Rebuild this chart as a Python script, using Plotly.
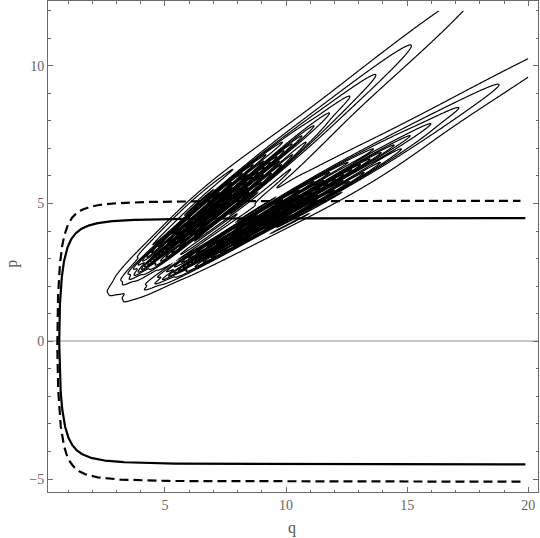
import numpy as np
import plotly.graph_objects as go

# ---- data / model parameters ----
x_ticks = [5, 10, 15, 20]
y_ticks = [-5, 0, 5, 10]
q_range = [0.17, 20.4]
p_range = [-5.47, 12.35]

# energy curves  H = p^2/2 + a/q^2
pot_strength = 4.0
energy_levels = [10.0, 13.0]          # solid, dashed
energy_dash = ["solid", "9px,5px"]

# two sheared lobes (centre line q = q0 + p*t)
lobe_q0 = [0.50, 0.55]
lobe_t = [1.36, 1.95]
lobe_sigma0 = [0.30, 0.31]
lobe_sigma1 = [0.016, 0.02]
lobe_sigma_bump = [0.22, 0.26]
lobe_bump_p = [5.5, 5.5]
lobe_bump_w = [1.6, 1.6]
lobe_peak_p = [3.5, 3.5]
lobe_left_w = [0.72, 0.81]
lobe_right_w = [3.66, 2.94]
fringe_k = [13.0, 12.0]
fringe_m = [0.9, 0.9]
fringe_centre_p = [5.0, 4.7]
fringe_width_p = [1.3, 1.3]
contour_start, contour_end, contour_step = 0.04, 3.0, 0.1

# ---- grid for contour plot ----
qg = np.linspace(0.2, 20, 900)
pg = np.linspace(0.0, 12, 700)
Q, P = np.meshgrid(qg, pg)
Z = np.zeros_like(Q)
for i in range(2):
    v = Q - lobe_q0[i] - P * lobe_t[i]
    sig = (lobe_sigma0[i] + lobe_sigma1[i] * P
           + lobe_sigma_bump[i] * np.exp(-(P - lobe_bump_p[i]) ** 2 / (2 * lobe_bump_w[i] ** 2)))
    w = np.where(P < lobe_peak_p[i], lobe_left_w[i], lobe_right_w[i])
    G = np.exp(-(P - lobe_peak_p[i]) ** 2 / (2 * w ** 2))
    mf = fringe_m[i] * np.exp(-(P - fringe_centre_p[i]) ** 2 / (2 * fringe_width_p[i] ** 2))
    Z += G * np.exp(-v ** 2 / (2 * sig ** 2)) * (1 + mf * np.cos(fringe_k[i] * 0.45 * v / sig))

fig = go.Figure()
fig.add_trace(go.Contour(
    x=qg, y=pg, z=Z,
    contours=dict(coloring="lines", start=contour_start, end=contour_end, size=contour_step),
    colorscale=[[0, "black"], [1, "black"]],
    line=dict(width=1.2, color="black"),
    showscale=False, hoverinfo="skip",
))

for E, dash in zip(energy_levels, energy_dash):
    pm = np.sqrt(2 * (E - pot_strength / q_range[1] ** 2 * 0.98))
    th = np.linspace(-np.pi / 2, np.pi / 2, 1500)
    pp = pm * np.sin(th)
    qq = np.sqrt(pot_strength / (E - pp ** 2 / 2))
    m = qq <= 20
    fig.add_trace(go.Scatter(x=qq[m], y=pp[m], mode="lines",
                             line=dict(color="black", width=2.2, dash=dash),
                             hoverinfo="skip", showlegend=False))

axis_common = dict(
    showline=True, linecolor="#6a6a6a", linewidth=1, mirror="ticks",
    ticks="inside", ticklen=5, tickcolor="#6a6a6a", tickwidth=1,
    showgrid=False, automargin=False,
    tickfont=dict(family="Liberation Serif", size=14, color="#666"),
)
fig.update_xaxes(range=q_range, tickvals=x_ticks, zeroline=False,
                 minor=dict(ticks="inside", ticklen=2.5, dtick=1, tick0=0, tickcolor="#6a6a6a"),
                 **axis_common)
fig.update_yaxes(range=p_range, tickvals=y_ticks, zeroline=True, zerolinecolor="#c8c8c8", zerolinewidth=1.6,
                 minor=dict(ticks="inside", ticklen=2.5, dtick=1, tick0=0, tickcolor="#6a6a6a"),
                 **axis_common)
title_font = dict(family="Liberation Serif", size=16, color="#555")
fig.add_annotation(text="q", xref="paper", yref="paper", x=0.498, y=-0.073,
                   showarrow=False, font=title_font, xanchor="center", yanchor="middle")
fig.add_annotation(text="p", xref="paper", yref="paper", x=-0.0735, y=0.465, textangle=-90,
                   showarrow=False, font=title_font, xanchor="center", yanchor="middle")
fig.update_layout(width=540, height=538, margin=dict(l=48, r=2, t=1, b=46),
                  plot_bgcolor="white", paper_bgcolor="white", showlegend=False)
fig.write_html("out.html", config={"displayModeBar": False},
               post_script="document.body.style.margin='0';document.body.style.overflow='hidden';")
